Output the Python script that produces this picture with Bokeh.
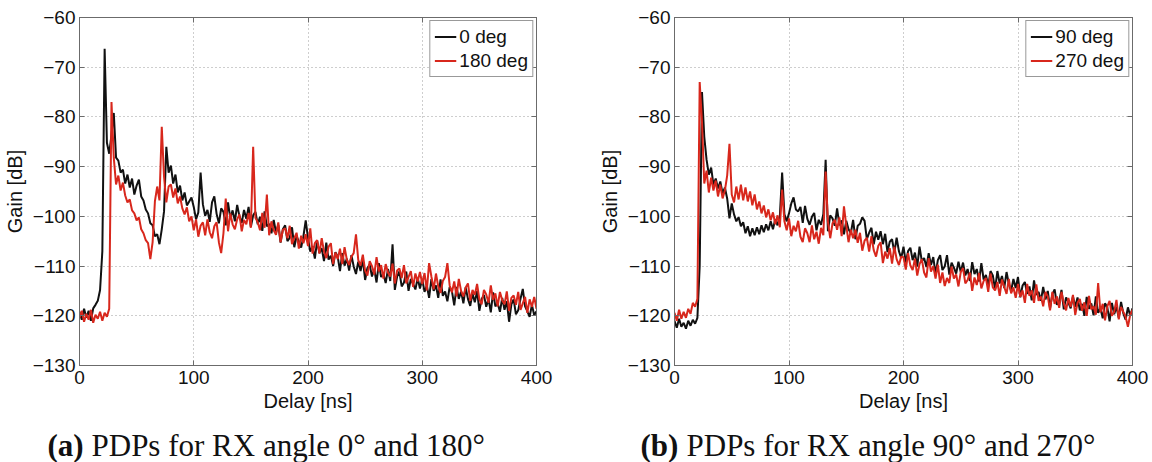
import numpy as np
from bokeh.plotting import figure
from bokeh.layouts import column, row
from bokeh.models import Range1d, LinearAxis, FixedTicker, CustomJSTickFormatter
from bokeh.core.properties import value
from bokeh.embed import file_html
from bokeh.resources import INLINE

# ---------------------------------------------------------------- data
# power delay profiles, sampled every 2 ns from 0 to 400 ns
delay_ns = np.arange(0, 401, 2)

gain_0deg = [
    -119.2, -120.8, -118.6, -120.4, -119.0, -121.0, -118.5, -117.8, -117.0, -114.8,
    -107.0, -66.3, -85.2, -87.4, -83.6, -79.2, -88.2, -88.8, -91.2, -90.6,
    -93.4, -91.6, -94.2, -92.4, -95.6, -93.8, -92.6, -96.0, -96.8, -98.6,
    -99.4, -101.4, -101.8, -104.0, -103.6, -105.6, -102.6, -99.0, -86.0, -91.2,
    -89.8, -93.4, -91.6, -95.2, -93.8, -96.8, -95.2, -97.8, -97.0, -96.2,
    -98.1, -100.6, -99.2, -91.2, -97.6, -99.9, -98.7, -101.1, -97.2, -96.0,
    -99.5, -101.4, -98.4, -99.1, -101.8, -97.2, -100.4, -98.8, -101.0, -97.7,
    -100.0, -101.3, -98.7, -100.5, -98.1, -102.1, -99.8, -99.1, -101.6, -100.1,
    -102.9, -99.0, -102.0, -101.5, -103.4, -100.7, -103.3, -101.7, -105.3, -102.6,
    -101.8, -105.0, -104.3, -102.2, -106.2, -104.0, -105.1, -106.3, -104.0, -100.8,
    -104.4, -107.1, -106.0, -108.5, -104.9, -107.4, -106.4, -109.0, -105.3, -108.7,
    -107.9, -110.0, -107.2, -108.1, -111.0, -107.4, -109.9, -108.5, -110.9, -107.8,
    -110.1, -111.6, -109.1, -111.0, -108.7, -112.8, -110.4, -109.7, -112.1, -110.6,
    -113.3, -109.4, -112.2, -111.6, -113.4, -110.6, -113.0, -105.6, -114.8, -112.1,
    -111.1, -114.1, -113.3, -111.1, -115.0, -112.6, -113.6, -114.7, -112.4, -114.5,
    -112.6, -115.2, -113.9, -116.4, -112.6, -115.0, -113.9, -116.4, -112.7, -116.0,
    -115.1, -117.1, -114.2, -115.1, -117.9, -114.2, -116.6, -115.1, -117.5, -114.3,
    -116.6, -118.0, -115.5, -117.3, -115.0, -119.0, -116.6, -115.8, -118.2, -116.6,
    -119.3, -115.3, -118.1, -117.5, -119.2, -116.4, -118.8, -117.1, -121.2, -117.7,
    -116.7, -119.7, -118.9, -116.6, -114.6, -118.1, -119.1, -120.2, -117.8, -119.9,
    -119.1,
]

gain_180deg = [
    -120.4, -119.0, -121.2, -119.6, -120.8, -118.8, -121.4, -119.8, -120.6, -119.2,
    -121.0, -119.4, -120.2, -118.6, -77.0, -88.2, -93.6, -91.8, -94.8, -93.2,
    -95.8, -97.2, -96.6, -98.8, -99.4, -100.8, -100.2, -102.6, -103.4, -104.8,
    -105.4, -108.6, -105.2, -97.0, -94.0, -96.8, -82.0, -92.0, -97.2, -94.0,
    -93.6, -96.2, -94.4, -97.4, -96.0, -98.4, -99.6, -98.2, -101.0, -100.0,
    -102.8, -100.6, -104.1, -101.9, -101.2, -103.8, -100.6, -103.2, -104.4, -102.0,
    -101.2, -105.2, -107.4, -103.4, -96.4, -103.0, -99.4, -101.6, -102.6, -100.6,
    -99.6, -103.0, -100.7, -101.6, -99.3, -102.3, -86.0, -100.3, -101.2, -102.8,
    -99.3, -102.3, -95.6, -103.8, -101.0, -102.8, -103.7, -101.2, -105.2, -102.7,
    -102.4, -104.4, -101.9, -105.6, -104.4, -103.3, -106.5, -103.9, -105.4, -103.6,
    -106.0, -102.4, -107.5, -105.4, -104.8, -107.5, -104.4, -107.1, -108.4, -106.1,
    -105.4, -109.6, -107.3, -108.6, -106.5, -109.6, -106.2, -108.7, -109.8, -108.1,
    -107.4, -103.6, -108.8, -109.9, -107.7, -110.9, -111.9, -109.0, -110.0, -111.7,
    -108.2, -111.1, -109.8, -112.5, -109.6, -111.3, -112.1, -109.5, -113.5, -110.9,
    -110.5, -112.4, -109.8, -113.5, -112.2, -111.0, -114.2, -111.5, -113.1, -111.2,
    -113.6, -111.4, -114.9, -109.4, -112.1, -114.7, -111.5, -114.1, -115.4, -113.0,
    -112.2, -109.4, -113.9, -115.3, -113.1, -116.1, -112.6, -115.0, -116.1, -114.3,
    -113.5, -117.0, -114.8, -115.8, -113.6, -116.7, -117.7, -114.8, -115.7, -117.4,
    -113.9, -116.8, -115.5, -118.1, -115.2, -116.9, -117.7, -115.1, -119.0, -116.4,
    -115.9, -117.8, -115.2, -118.8, -117.5, -116.2, -119.4, -116.7, -118.2, -116.2,
    -118.6,
]

gain_90deg = [
    -121.0, -122.4, -120.6, -122.2, -121.4, -122.6, -121.0, -122.0, -120.8, -121.6,
    -120.4, -110.0, -75.0, -84.0, -88.6, -91.6, -90.2, -93.6, -92.4, -94.4,
    -93.0, -95.4, -94.2, -96.4, -100.4, -97.4, -99.6, -101.0, -100.2, -102.0,
    -101.2, -103.4, -102.0, -104.0, -102.4, -103.8, -102.2, -103.6, -101.8, -103.2,
    -101.6, -102.8, -101.0, -102.6, -100.6, -101.8, -100.0, -91.2, -99.6, -101.0,
    -99.4, -97.4, -96.2, -98.6, -99.0, -98.1, -101.3, -97.9, -100.5, -101.7,
    -100.1, -99.3, -102.8, -100.7, -101.7, -99.5, -88.6, -103.0, -99.8, -100.4,
    -101.9, -98.4, -101.8, -100.8, -103.6, -100.9, -102.6, -103.4, -100.7, -104.6,
    -101.9, -101.5, -100.2, -100.9, -104.6, -103.3, -102.3, -105.6, -103.1, -104.7,
    -103.0, -105.6, -103.5, -107.2, -105.1, -104.6, -107.3, -104.3, -107.0, -108.4,
    -106.1, -109.3, -107.0, -106.3, -108.8, -107.3, -110.1, -106.1, -109.0, -108.4,
    -110.2, -107.4, -109.8, -108.2, -111.6, -108.8, -107.8, -110.8, -110.1, -107.8,
    -111.7, -109.3, -110.3, -111.5, -109.1, -111.2, -109.3, -111.9, -110.6, -113.0,
    -109.2, -111.6, -110.6, -113.1, -109.4, -112.7, -111.8, -113.9, -111.0, -111.9,
    -114.7, -111.0, -113.5, -112.0, -114.4, -111.2, -113.6, -115.0, -112.6, -114.4,
    -112.2, -116.3, -113.9, -113.2, -115.6, -114.1, -116.9, -112.9, -115.8, -115.2,
    -117.0, -114.2, -116.7, -115.0, -118.5, -115.7, -114.7, -117.8, -117.0, -114.8,
    -118.7, -116.3, -117.3, -118.5, -116.1, -118.2, -116.3, -118.9, -117.6, -120.0,
    -116.2, -118.6, -117.5, -119.9, -116.1, -119.4, -118.5, -120.5, -117.5, -118.3,
    -121.1, -117.4, -119.7, -118.2, -120.4, -117.2, -119.5, -120.8, -118.3, -120.0,
    -118.5,
]

gain_270deg = [
    -119.4, -121.0, -118.8, -120.6, -119.2, -120.4, -118.6, -119.6, -117.4, -118.2,
    -116.6, -73.0, -81.0, -93.4, -90.8, -95.2, -92.2, -94.8, -92.8, -96.0,
    -93.6, -96.4, -94.8, -91.8, -85.4, -95.6, -97.2, -94.0, -96.6, -93.6,
    -96.8, -94.2, -97.0, -95.0, -97.8, -95.6, -98.6, -97.0, -99.4, -97.8,
    -100.2, -98.6, -100.8, -99.2, -101.6, -99.8, -102.2, -94.6, -101.0, -102.8,
    -100.4, -104.0, -101.9, -103.0, -100.9, -104.1, -105.2, -102.4, -103.4, -105.2,
    -101.8, -104.6, -103.1, -105.5, -102.3, -103.8, -91.0, -101.1, -104.4, -101.4,
    -100.7, -102.7, -100.2, -104.0, -98.0, -101.8, -105.2, -102.7, -104.4, -102.7,
    -105.3, -103.3, -106.9, -104.9, -104.3, -107.1, -104.0, -106.8, -108.1, -105.9,
    -105.2, -109.4, -107.1, -108.5, -106.4, -109.5, -106.1, -108.6, -109.8, -108.1,
    -108.2, -110.7, -107.4, -109.9, -110.8, -108.5, -111.9, -109.6, -108.6, -111.3,
    -112.3, -108.4, -111.1, -110.0, -112.5, -109.7, -113.4, -111.3, -114.0, -112.4,
    -113.4, -110.1, -112.5, -111.7, -114.1, -111.2, -110.4, -113.5, -112.8, -111.3,
    -115.0, -112.3, -113.8, -111.4, -114.5, -113.0, -112.4, -115.2, -111.5, -114.3,
    -114.9, -113.2, -116.0, -112.7, -114.2, -115.6, -112.6, -115.5, -114.3, -116.4,
    -113.6, -116.2, -114.9, -117.4, -113.6, -116.0, -114.9, -117.4, -113.7, -117.0,
    -116.1, -118.1, -115.2, -116.1, -118.9, -115.2, -117.6, -116.1, -118.4, -115.2,
    -117.5, -118.9, -116.4, -118.2, -115.8, -119.8, -117.4, -116.6, -119.0, -117.3,
    -120.0, -116.0, -118.7, -118.1, -119.8, -113.4, -119.3, -117.6, -120.9, -118.1,
    -117.0, -120.0, -119.2, -116.8, -120.7, -118.2, -119.2, -120.2, -122.2, -119.8,
    -118.8,
]

delay_ticks = [0, 100, 200, 300, 400]
gain_ticks = [-130, -120, -110, -100, -90, -80, -70, -60]

legend_a = ["0 deg", "180 deg"]
legend_b = ["90 deg", "270 deg"]
caption_tags = ["(a)", "(b)"]
caption_texts = ["PDPs for RX angle 0\u00b0 and 180\u00b0",
                 "PDPs for RX angle 90\u00b0 and 270\u00b0"]

# ---------------------------------------------------------------- style
BLACK = "#111111"
RED = "#d8271c"
FRAME = "#6b6b6b"
GRID = "#9c9c9c"
SANS = "Liberation Sans"
SERIF = "Liberation Serif"
FRAME_H = 348
PANEL_H = 425


def blank_axis(ticks):
    return LinearAxis(
        ticker=FixedTicker(ticks=ticks),
        formatter=CustomJSTickFormatter(code="return ''"),
        major_tick_in=5, major_tick_out=0,
        minor_tick_line_color=None,
        axis_line_color=FRAME, major_tick_line_color=FRAME,
        major_label_standoff=0,
    )


def pdp_panel(frame_w, left, right, top, series_a, series_b, labels):
    p = figure(
        frame_width=frame_w, frame_height=FRAME_H,
        x_range=Range1d(0, 400), y_range=Range1d(-130, -60),
        output_backend="svg", toolbar_location=None, title=None,
        min_border_left=left, min_border_right=right,
        min_border_top=top, min_border_bottom=PANEL_H - top - FRAME_H,
        background_fill_color="white", border_fill_color="white",
    )
    p.outline_line_color = FRAME
    p.outline_line_width = 1

    p.xaxis.ticker = FixedTicker(ticks=delay_ticks)
    p.yaxis.ticker = FixedTicker(ticks=gain_ticks)
    p.xaxis.axis_label = "Delay [ns]"
    p.yaxis.axis_label = "Gain [dB]"
    for ax in (p.xaxis[0], p.yaxis[0]):
        ax.major_tick_in = 5
        ax.major_tick_out = 0
        ax.minor_tick_line_color = None
        ax.axis_line_color = FRAME
        ax.major_tick_line_color = FRAME
        ax.major_label_text_font = SANS
        ax.major_label_text_font_size = "19px"
        ax.major_label_text_color = "#111111"
        ax.axis_label_text_font = SANS
        ax.axis_label_text_font_size = "20px"
        ax.axis_label_text_font_style = "normal"
        ax.axis_label_text_color = "#111111"
    p.xaxis.major_label_standoff = 5
    p.xaxis.axis_label_standoff = 3
    p.yaxis.major_label_standoff = 4
    p.yaxis.axis_label_standoff = 4

    p.add_layout(blank_axis(gain_ticks), "right")
    p.add_layout(blank_axis(delay_ticks), "above")

    p.xgrid.ticker = FixedTicker(ticks=delay_ticks)
    p.ygrid.ticker = FixedTicker(ticks=gain_ticks)
    p.grid.grid_line_color = GRID
    p.grid.grid_line_dash = "1 3"
    p.grid.grid_line_width = 1

    p.line(delay_ns, series_a, line_color=BLACK, line_width=2, legend_label=labels[0])
    p.line(delay_ns, series_b, line_color=RED, line_width=2, legend_label=labels[1])

    lg = p.legend[0]
    lg.location = "top_right"
    lg.margin = 3
    lg.padding = 4
    lg.spacing = 1
    lg.glyph_width = 22
    lg.glyph_height = 23
    lg.label_standoff = 3
    lg.label_text_font = SANS
    lg.label_text_font_size = "19px"
    lg.label_text_color = "#111111"
    lg.border_line_color = "#333333"
    lg.border_line_width = 1
    lg.background_fill_color = "white"
    lg.background_fill_alpha = 1.0
    return p


p_a = pdp_panel(457, 77, 46, 17, gain_0deg, gain_180deg, legend_a)
p_b = pdp_panel(458, 92, 22, 12, gain_90deg, gain_270deg, legend_b)

# ---------------------------------------------------------------- captions
CAP_H = 462 - PANEL_H
cap = figure(
    width=1152, height=CAP_H,
    x_range=Range1d(0, 1152), y_range=Range1d(0, CAP_H),
    output_backend="svg", toolbar_location=None, title=None, min_border=0,
    background_fill_color="white", border_fill_color="white",
)
cap.axis.visible = False
cap.grid.visible = False
cap.outline_line_color = None
cap.text(x=[47, 640], y=[17, 17], text=caption_tags,
         text_font=value(SERIF), text_font_style="bold", text_font_size="31px",
         text_baseline="alphabetic", text_align="left", text_color="#111111")
cap.text(x=[91, 686], y=[17, 17], text=caption_texts,
         text_font=value(SERIF), text_font_size="31px",
         text_baseline="alphabetic", text_align="left", text_color="#111111")

layout = column(row(p_a, p_b, spacing=0), cap, spacing=0)
open("out.html", "w").write(file_html(layout, INLINE))
